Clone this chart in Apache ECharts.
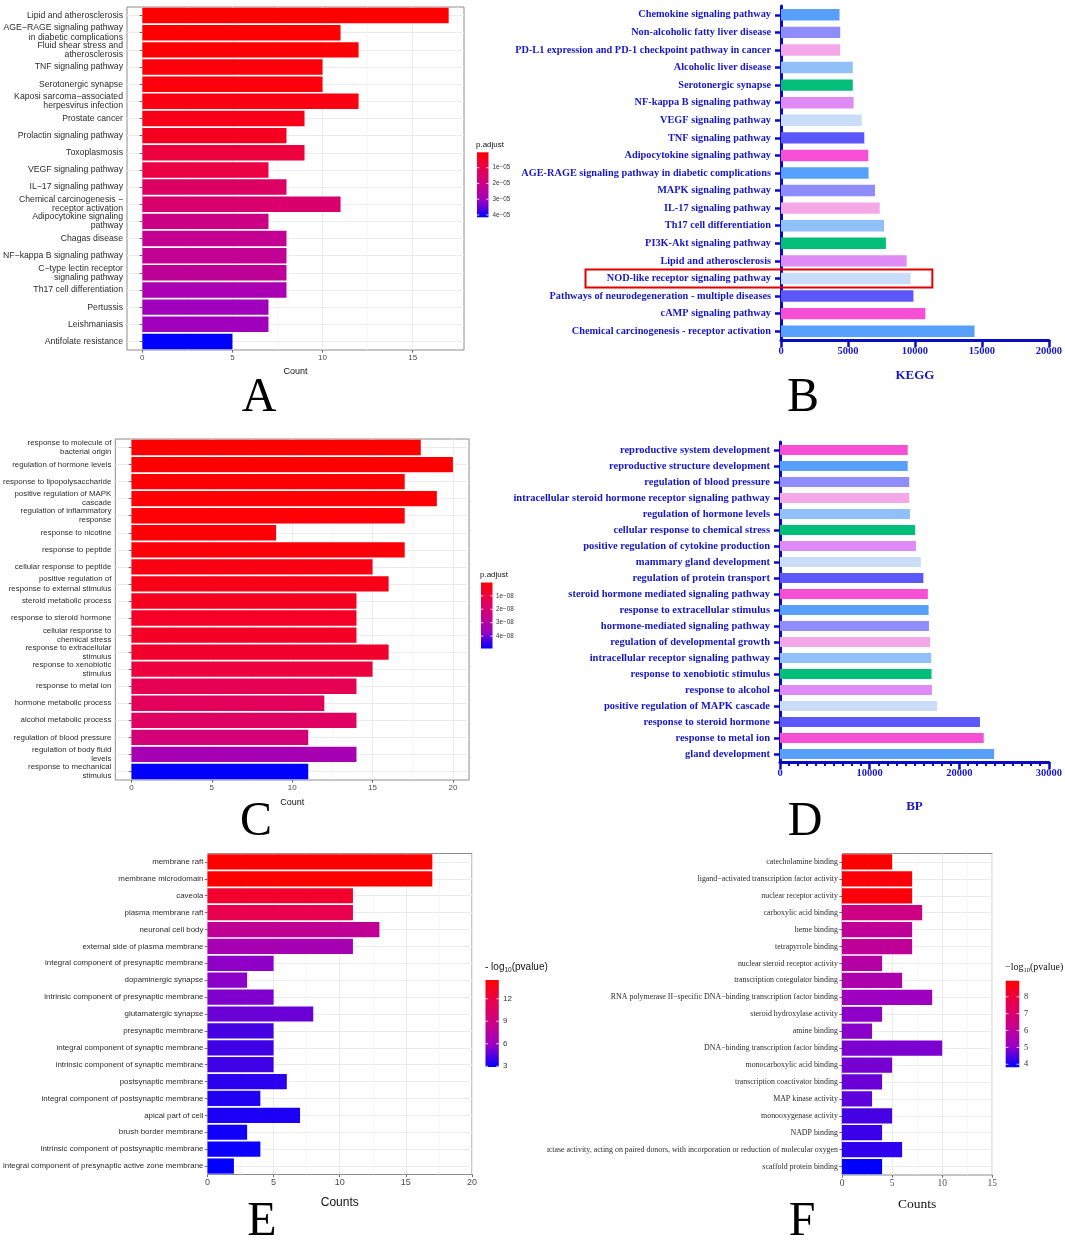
<!DOCTYPE html>
<html><head><meta charset="utf-8">
<script src="https://cdn.jsdelivr.net/npm/echarts@6/dist/echarts.min.js"></script>
<style>html,body{margin:0;padding:0;background:#fff}#c{width:1065px;height:1242px}</style>
</head><body><div id="c"></div>
<script>
// ---------------- DATA ----------------
// Panel A (KEGG, ggplot)
const catsA = ['Lipid and atherosclerosis','AGE−RAGE signaling pathway\nin diabetic complications','Fluid shear stress and\natherosclerosis','TNF signaling pathway','Serotonergic synapse','Kaposi sarcoma−associated\nherpesvirus infection','Prostate cancer','Prolactin signaling pathway','Toxoplasmosis','VEGF signaling pathway','IL−17 signaling pathway','Chemical carcinogenesis −\nreceptor activation','Adipocytokine signaling\npathway','Chagas disease','NF−kappa B signaling pathway','C−type lectin receptor\nsignaling pathway','Th17 cell differentiation','Pertussis','Leishmaniasis','Antifolate resistance'];
const countA = [17,11,12,10,10,12,9,8,9,7,8,11,7,8,8,8,8,7,7,5];
const padjA = [0.02e-5,0.05e-5,0.09e-5,0.17e-5,0.17e-5,0.25e-5,0.33e-5,0.42e-5,0.83e-5,0.91e-5,1.45e-5,1.58e-5,2.0e-5,2.24e-5,2.28e-5,2.32e-5,2.82e-5,2.99e-5,2.99e-5,4.15e-5];
const ticksA = [0,5,10,15];
const minorTicksA = [2.5,7.5,12.5,17.5];
const legendTicksA = [1e-5,2e-5,3e-5,4e-5];
const legendLabelsA = ['1e−05','2e−05','3e−05','4e−05'];

// Panel B (KEGG, prism style)
const catsB = ['Chemokine signaling pathway','Non-alcoholic fatty liver disease','PD-L1 expression and PD-1 checkpoint pathway in cancer','Alcoholic liver disease','Serotonergic synapse','NF-kappa B signaling pathway','VEGF signaling pathway','TNF signaling pathway','Adipocytokine signaling pathway','AGE-RAGE signaling pathway in diabetic complications','MAPK signaling pathway','IL-17 signaling pathway','Th17 cell differentiation','PI3K-Akt signaling pathway','Lipid and atherosclerosis','NOD-like receptor signaling pathway','Pathways of neurodegeneration - multiple diseases','cAMP signaling pathway','Chemical carcinogenesis - receptor activation'];
const valsB = [4370,4420,4420,5360,5360,5420,6030,6220,6520,6540,7020,7370,7700,7830,9380,9680,9890,10780,14450];
const highlightB = 'NOD-like receptor signaling pathway';

// Panel C (GO BP, ggplot)
const catsC = ['response to molecule of\nbacterial origin','regulation of hormone levels','response to lipopolysaccharide','positive regulation of MAPK\ncascade','regulation of inflammatory\nresponse','response to nicotine','response to peptide','cellular response to peptide','positive regulation of\nresponse to external stimulus','steroid metabolic process','response to steroid hormone','cellular response to\nchemical stress','response to extracellular\nstimulus','response to xenobiotic\nstimulus','response to metal ion','hormone metabolic process','alcohol metabolic process','regulation of blood pressure','regulation of body fluid\nlevels','response to mechanical\nstimulus'];
const countC = [18,20,17,19,17,9,17,15,16,14,14,14,16,15,14,12,14,11,14,11];
const padjC = [0.01e-8,0.03e-8,0.05e-8,0.07e-8,0.09e-8,0.1e-8,0.15e-8,0.3e-8,0.35e-8,0.5e-8,0.6e-8,0.62e-8,0.7e-8,0.98e-8,1.33e-8,1.5e-8,1.62e-8,2.1e-8,3.35e-8,4.92e-8];
const ticksC = [0,5,10,15,20];
const minorTicksC = [2.5,7.5,12.5,17.5];
const legendTicksC = [1e-8,2e-8,3e-8,4e-8];
const legendLabelsC = ['1e−08','2e−08','3e−08','4e−08'];

// Panel D (BP, prism style)
const catsD = ['reproductive system development','reproductive structure development','regulation of blood pressure','intracellular steroid hormone receptor signaling pathway','regulation of hormone levels','cellular response to chemical stress','positive regulation of cytokine production','mammary gland development','regulation of protein transport','steroid hormone mediated signaling pathway','response to extracellular stimulus','hormone-mediated signaling pathway','regulation of developmental growth','intracellular receptor signaling pathway','response to xenobiotic stimulus','response to alcohol','positive regulation of MAPK cascade','response to steroid hormone','response to metal ion','gland development'];
const valsD = [14250,14250,14420,14420,14500,15080,15170,15710,16000,16500,16580,16620,16750,16870,16910,16950,17530,22310,22730,23890];

// Panel E (GO CC)
const catsE = ['membrane raft','membrane microdomain','caveola','plasma membrane raft','neuronal cell body','external side of plasma membrane','integral component of presynaptic membrane','dopaminergic synapse','intrinsic component of presynaptic membrane','glutamatergic synapse','presynaptic membrane','integral component of synaptic membrane','intrinsic component of synaptic membrane','postsynaptic membrane','integral component of postsynaptic membrane','apical part of cell','brush border membrane','intrinsic component of postsynaptic membrane','integral component of presynaptic active zone membrane'];
const countE = [17,17,11,11,13,11,5,3,5,8,5,5,5,6,4,7,3,4,2];
const logpE = [14.5,14.45,12.8,11.6,8.1,6.6,5.6,5.5,5.3,4.9,4.2,4.1,4.1,3.7,3.5,3.4,3.2,3.1,2.9];
const ticksE = [0,5,10,15,20];
const legendTicksE = [3,6,9,12];

// Panel F (GO MF)
const catsF = ['catecholamine binding','ligand−activated transcription factor activity','nuclear receptor activity','carboxylic acid binding','heme binding','tetrapyrrole binding','nuclear steroid receptor activity','transcription coregulator binding','RNA polymerase II−specific DNA−binding transcription factor binding','steroid hydroxylase activity','amine binding','DNA−binding transcription factor binding','monocarboxylic acid binding','transcription coactivator binding','MAP kinase activity','monooxygenase activity','NADP binding','oxidoreductase activity, acting on paired donors, with incorporation or reduction of molecular oxygen','scaffold protein binding'];
const countF = [5,7,7,8,7,7,4,6,9,4,3,10,5,4,3,5,4,6,4];
const logpF = [8.95,8.8,8.75,6.5,6.1,6.1,5.8,5.6,5.2,5.0,4.95,4.85,4.8,4.7,4.6,4.4,4.3,4.2,3.82];
const ticksF = [0,5,10,15];
const legendTicksF = [4,5,6,7,8];

// ---------------- STYLE ----------------
const SANS = 'Liberation Sans, Arial, sans-serif';
const SERIF = 'Liberation Serif, Times New Roman, serif';
const prismPal = ['#56A0FB','#F64FD6','#5B57FA','#C9DDF8','#DF8AF5','#03BE78','#91BFFA','#F5A8E8','#908CFB'];
const gradLowToHigh = ['#FF0000','#E8004F','#CA0089','#9A00C3','#0000FF']; // low value = red
const gradHighRed = gradLowToHigh.slice().reverse();
const axisBlue = '#0B0BC4', textBlue = '#1717C6';
const gridGrey = '#EBEBEB', minorGrey = '#F4F4F4', borderGrey = '#8C8C8C';
const mn = a => Math.min.apply(null, a), mx = a => Math.max.apply(null, a);

function ggX(grid, min, max, ticks, name, font, fs, nameFs, nameGap, custom) {
  const ax = {gridIndex: grid, type: 'value', min: min, max: max,
    axisLine: {show: false},
    axisTick: {show: true, length: 2.7, lineStyle: {color: '#444', width: 0.8}},
    axisLabel: {fontFamily: font, fontSize: fs, color: '#4D4D4D', margin: 3.5},
    splitLine: {show: true, lineStyle: {color: gridGrey, width: 1}},
    name: name, nameLocation: 'middle', nameGap: nameGap,
    nameTextStyle: {fontFamily: font, fontSize: nameFs, color: '#111'}};
  if (custom) {
    ax.axisTick.customValues = ticks; ax.axisLabel.customValues = ticks;
  } else {
    ax.interval = 5;
    ax.minorTick = {show: false, splitNumber: 2};
    ax.minorSplitLine = {show: true, lineStyle: {color: minorGrey, width: 0.7}};
  }
  return ax;
}
function ggMinorX(grid, min, max, ticks) {
  return {gridIndex: grid, type: 'value', min: min, max: max, position: 'bottom',
    axisLine: {show: false},
    axisTick: {show: false, customValues: ticks},
    axisLabel: {show: false, customValues: ticks},
    splitLine: {show: true, lineStyle: {color: minorGrey, width: 0.7}}};
}
function ggY(grid, cats, font, fs, lh) {
  return {gridIndex: grid, type: 'category', data: cats, inverse: true,
    axisLine: {show: false},
    axisTick: {show: true, alignWithLabel: true, length: 2.7, lineStyle: {color: '#444', width: 0.8}},
    axisLabel: {interval: 0, fontFamily: font, fontSize: fs, lineHeight: lh, color: '#2b2b2b', margin: 4},
    splitLine: {show: true, alignWithLabel: true, lineStyle: {color: gridGrey, width: 1}}};
}
function prismX(grid, max, interval, name, nameGap, minor) {
  const ax = {gridIndex: grid, type: 'value', min: 0, max: max, interval: interval,
    axisLine: {show: true, onZero: false, lineStyle: {color: axisBlue, width: 3}},
    axisTick: {show: true, length: 7, lineStyle: {color: axisBlue, width: 2.5}},
    axisLabel: {fontFamily: SERIF, fontWeight: 'bold', fontSize: 10.5, color: textBlue, margin: 6, formatter: v => String(v)},
    splitLine: {show: false},
    name: name, nameLocation: 'middle', nameGap: nameGap,
    nameTextStyle: {fontFamily: SERIF, fontWeight: 'bold', fontSize: 13, color: textBlue}};
  if (minor) ax.minorTick = {show: true, splitNumber: 10, length: 4, lineStyle: {color: axisBlue, width: 2}};
  return ax;
}
function prismY(grid, cats, fs) {
  return {gridIndex: grid, type: 'category', data: cats, inverse: true,
    axisLine: {show: true, onZero: false, lineStyle: {color: axisBlue, width: 3}},
    axisTick: {show: true, alignWithLabel: true, length: 6, lineStyle: {color: axisBlue, width: 2.5}},
    axisLabel: {interval: 0, fontFamily: SERIF, fontWeight: 'bold', fontSize: fs, color: textBlue, margin: 10},
    splitLine: {show: false}};
}
function ggSeries(xi, yi, cats, counts, colorVals) {
  return {type: 'bar', xAxisIndex: xi, yAxisIndex: yi, barWidth: '90%', encode: {x: 0, y: 1},
    data: cats.map((c, i) => [counts[i], c, colorVals[i]]), z: 3};
}
function prismSeries(xi, yi, cats, vals, bw) {
  const n = cats.length;
  return {type: 'bar', xAxisIndex: xi, yAxisIndex: yi, barWidth: bw, encode: {x: 0, y: 1},
    data: cats.map((c, i) => ({value: [vals[i], c], itemStyle: {color: prismPal[(n - 1 - i) % prismPal.length]}}))};
}

const grids = [
  {left: 124, top: 7, width: 340, height: 343},        // A
  {left: 781, top: 6, width: 269, height: 334},        // B
  {left: 114, top: 439, width: 355, height: 341},      // C
  {left: 780, top: 442, width: 269, height: 320},      // D
  {left: 206.5, top: 853.5, width: 265.5, height: 321},// E
  {left: 842, top: 853.5, width: 150.3, height: 321.5} // F
].map((g, i) => Object.assign(g, (i === 1 || i === 3) ? {containLabel: false} :
  {show: true, borderColor: borderGrey, borderWidth: 1, backgroundColor: '#fff', containLabel: false}));

const xAxes = [
  ggX(0, -0.85, 17.85, ticksA, 'Count', SANS, 8, 9, 17.5, true),   // 0
  ggMinorX(0, -0.85, 17.85, minorTicksA),                            // 1
  prismX(1, 20000, 5000, 'KEGG', 29, false),                         // 2
  ggX(2, -1, 21, ticksC, 'Count', SANS, 8, 9, 18.5, true),          // 3
  ggMinorX(2, -1, 21, minorTicksC),                                  // 4
  prismX(3, 30000, 10000, 'BP', 38, true),                           // 5
  ggX(4, 0, 20, ticksE, 'Counts', SANS, 9, 12, 22, false),          // 6
  ggX(5, 0, 15, ticksF, 'Counts', SERIF, 9.5, 13.5, 22, false)      // 7
];
const yAxes = [
  ggY(0, catsA, SANS, 8.7, 9.3),
  prismY(1, catsB, 10.3),
  ggY(2, catsC, SANS, 7.9, 9.2),
  prismY(3, catsD, 10.5),
  ggY(4, catsE, SANS, 7.9, 9),
  ggY(5, catsF, SERIF, 7.9, 9)
];
const series = [
  ggSeries(0, 0, catsA, countA, padjA),
  prismSeries(2, 1, catsB, valsB, '65%'),
  ggSeries(3, 2, catsC, countC, padjC),
  prismSeries(5, 3, catsD, valsD, '63%'),
  ggSeries(6, 4, catsE, countE, logpE),
  ggSeries(7, 5, catsF, countF, logpF)
];
const visualMap = [
  {type: 'continuous', show: false, seriesIndex: 0, dimension: 2, min: mn(padjA), max: mx(padjA), inRange: {color: gradLowToHigh}},
  {type: 'continuous', show: false, seriesIndex: 2, dimension: 2, min: mn(padjC), max: mx(padjC), inRange: {color: gradLowToHigh}},
  {type: 'continuous', show: false, seriesIndex: 4, dimension: 2, min: mn(logpE), max: mx(logpE), inRange: {color: gradHighRed}},
  {type: 'continuous', show: false, seriesIndex: 5, dimension: 2, min: mn(logpF), max: mx(logpF), inRange: {color: gradHighRed}}
];

const chart = echarts.init(document.getElementById('c'), null, {renderer: 'canvas'});
chart.setOption({animation: false, backgroundColor: '#fff', grid: grids, xAxis: xAxes, yAxis: yAxes, series: series, visualMap: visualMap});

// ---------------- GRAPHIC ANNOTATIONS ----------------
function colorbar(o) {
  const els = [];
  els.push({type: 'text', x: o.titleX, y: o.titleY, z: 10, style: {text: o.title, fontFamily: o.font, fontSize: o.titleFs, fill: '#111', align: 'left', verticalAlign: 'middle', rich: o.rich}});
  els.push({type: 'rect', z: 10, shape: {x: o.x, y: o.y, width: o.w, height: o.h},
    style: {fill: new echarts.graphic.LinearGradient(0, 0, 0, 1, [
      {offset: 0, color: '#FF0000'}, {offset: 0.25, color: '#E8004F'}, {offset: 0.5, color: '#CA0089'},
      {offset: 0.75, color: '#9A00C3'}, {offset: 1, color: '#0000FF'}])}});
  o.ticks.forEach((v, i) => {
    const f = o.topIsMin ? (v - o.vmin) / (o.vmax - o.vmin) : (o.vmax - v) / (o.vmax - o.vmin);
    const yy = o.y + f * o.h;
    els.push({type: 'line', z: 11, shape: {x1: o.x, y1: yy, x2: o.x + o.w * 0.2, y2: yy}, style: {stroke: '#fff', lineWidth: 0.8}});
    els.push({type: 'line', z: 11, shape: {x1: o.x + o.w * 0.8, y1: yy, x2: o.x + o.w, y2: yy}, style: {stroke: '#fff', lineWidth: 0.8}});
    els.push({type: 'text', z: 10, x: o.labelX, y: yy, style: {text: o.labels[i], fontFamily: o.font, fontSize: o.labelFs, fill: '#333', align: 'left', verticalAlign: 'middle'}});
  });
  return els;
}
const g = [];
g.push(...colorbar({title: 'p.adjust', titleX: 476, titleY: 145, titleFs: 8, font: SANS, x: 477, y: 152.3, w: 11.5, h: 65,
  ticks: legendTicksA, labels: legendLabelsA, vmin: mn(padjA), vmax: mx(padjA), topIsMin: true, labelX: 492.5, labelFs: 6.3}));
g.push(...colorbar({title: 'p.adjust', titleX: 480, titleY: 575, titleFs: 8, font: SANS, x: 481, y: 582.5, w: 11.5, h: 66,
  ticks: legendTicksC, labels: legendLabelsC, vmin: mn(padjC), vmax: mx(padjC), topIsMin: true, labelX: 496, labelFs: 6.3}));
g.push(...colorbar({title: '- log{s|10}(pvalue)', rich: {s: {fontSize: 6.5, fontFamily: SANS, padding: [6, 0, 0, 0]}}, titleX: 485, titleY: 967, titleFs: 10, font: SANS,
  x: 485.5, y: 980, w: 13.3, h: 87, ticks: legendTicksE, labels: legendTicksE.map(String), vmin: mn(logpE), vmax: mx(logpE), topIsMin: false, labelX: 503, labelFs: 8}));
g.push(...colorbar({title: '−log{s|10}(pvalue)', rich: {s: {fontSize: 6.5, fontFamily: SERIF, padding: [6, 0, 0, 0]}}, titleX: 1005, titleY: 967.5, titleFs: 10, font: SERIF,
  x: 1005.7, y: 980.7, w: 13.6, h: 86.6, ticks: legendTicksF, labels: legendTicksF.map(String), vmin: mn(logpF), vmax: mx(logpF), topIsMin: false, labelX: 1024, labelFs: 8.5}));

// red highlight box around NOD-like receptor row in panel B
const pNod = chart.convertToPixel({xAxisIndex: 2, yAxisIndex: 1}, [11300, highlightB]);
g.push({type: 'rect', z: 20, shape: {x: 585.5, y: pNod[1] - 9, width: pNod[0] - 585.5, height: 18}, style: {fill: 'none', stroke: '#E00000', lineWidth: 2}});

// clip the long F label at the panel boundary (as in the original figure)
const pOx = chart.convertToPixel({xAxisIndex: 7, yAxisIndex: 5}, [0, catsF[17]]);
g.push({type: 'rect', z: 30, shape: {x: 480, y: pOx[1] - 8, width: 67, height: 16}, style: {fill: '#fff'}});

// panel letters
[['A', 259, 398], ['B', 803, 398], ['C', 256, 822], ['D', 805, 822], ['E', 262, 1222], ['F', 802, 1222]].forEach(l => {
  g.push({type: 'text', x: l[1], y: l[2], z: 10, style: {text: l[0], fontFamily: SERIF, fontSize: 48, fill: '#000', align: 'center', verticalAlign: 'middle'}});
});
chart.setOption({graphic: {elements: g}});
</script></body></html>
